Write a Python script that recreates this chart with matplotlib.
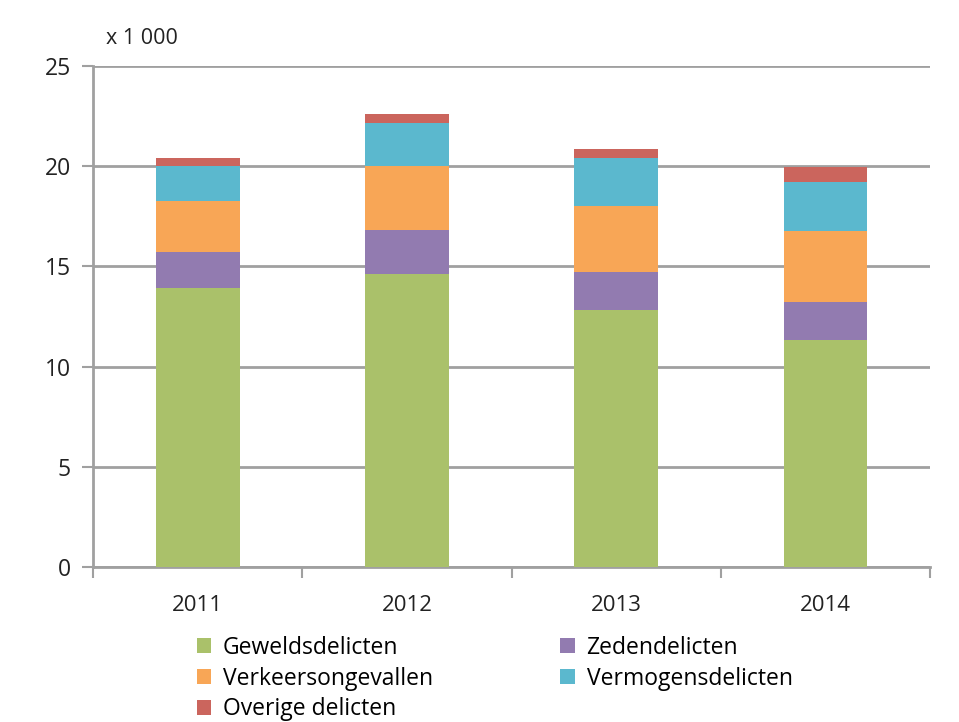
import matplotlib.pyplot as plt
import numpy as np

plt.rcParams['font.family'] = ['Open Sans', 'DejaVu Sans']

years = ['2011', '2012', '2013', '2014']
geweld = [13.9, 14.6, 12.82, 11.33]
zeden = [1.8, 2.2, 1.91, 1.87]
verkeer = [2.55, 3.2, 3.27, 3.58]
vermogen = [1.75, 2.17, 2.43, 2.44]
overig = [0.39, 0.43, 0.45, 0.75]

series = [
    ('Geweldsdelicten', geweld, '#AAC16A'),
    ('Zedendelicten', zeden, '#927BB0'),
    ('Verkeersongevallen', verkeer, '#F8A656'),
    ('Vermogensdelicten', vermogen, '#5BB8CE'),
    ('Overige delicten', overig, '#CB655D'),
]

fig = plt.figure(figsize=(9.59, 7.22), dpi=100)
ax = fig.add_axes([0.097, 0.2147, 0.873, 0.6939])

x = np.arange(len(years))
bottom = np.zeros(len(years))
bars = {}
for name, vals, col in series:
    bars[name] = ax.bar(x, vals, width=0.4, bottom=bottom, color=col, label=name, zorder=3)
    bottom += np.array(vals)

gridc = '#A0A0A0'
ax.set_ylim(0, 25)
ax.set_xlim(-0.5, 3.5)
ax.set_yticks(range(0, 26, 5))
ax.yaxis.grid(True, color=gridc, linewidth=2, zorder=0)
ax.set_xticks(x)
ax.set_xticklabels(years)
ax.set_xticks(np.arange(-0.5, 4, 1), minor=True)
ax.tick_params(axis='x', which='major', length=0, pad=20, labelsize=16, colors='#222222')
ax.tick_params(axis='x', which='minor', length=8, width=1.5, color=gridc)
ax.tick_params(axis='y', length=8, width=1.5, color=gridc, pad=8, labelsize=16.5, labelcolor='#222222')
for s in ['top', 'right']:
    ax.spines[s].set_visible(False)
for s in ['left', 'bottom']:
    ax.spines[s].set_color(gridc)
    ax.spines[s].set_linewidth(2)

fig.text(0.111, 0.947, 'x 1 000', fontsize=15.5, color='#222222', va='center')

order = ['Geweldsdelicten', 'Verkeersongevallen', 'Overige delicten', 'Zedendelicten', 'Vermogensdelicten']
fig.legend([bars[n] for n in order], order, ncol=2, loc='upper left',
           bbox_to_anchor=(0.205, 0.1195), frameon=False, fontsize=16.5,
           handlelength=0.65, handleheight=0.65, handletextpad=0.5,
           columnspacing=5.55, labelspacing=0.3, borderaxespad=0, borderpad=0)

fig.savefig('out.png', dpi=100)
